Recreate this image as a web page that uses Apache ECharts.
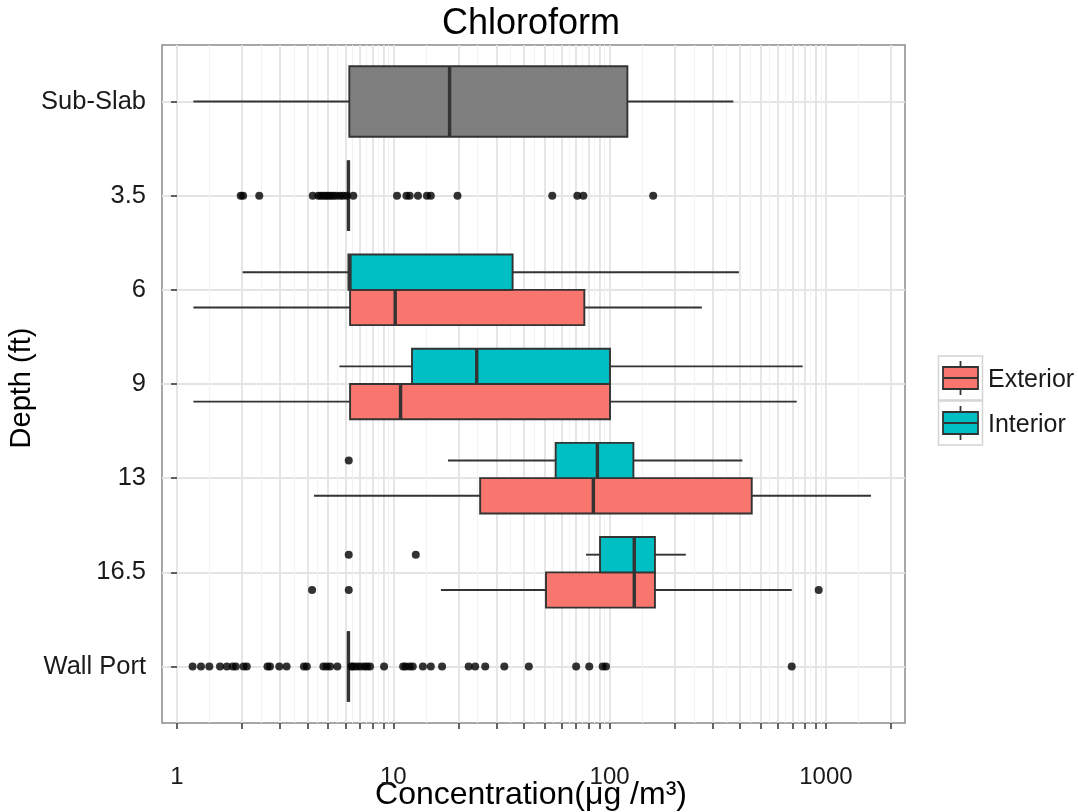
<!DOCTYPE html>
<html>
<head>
<meta charset="utf-8">
<script src="https://cdn.jsdelivr.net/npm/echarts@6/dist/echarts.min.js"></script>
<style>
html,body{margin:0;padding:0;background:#fff;}
#chart{width:1078px;height:812px;}
</style>
</head>
<body>
<div id="chart"></div>
<script>
// ---------- data ----------
const depthLabels = ['Wall Port', '16.5', '13', '9', '6', '3.5', 'Sub-Slab']; // bottom -> top
const tickValues = [1,2,3,4,5,6,7,8,9,10,20,30,40,50,60,70,80,90,100,200,300,400,500,600,700,800,900,1000,2000];
const labelValues = [1, 10, 100, 1000];
const groups = ['Exterior', 'Interior'];

// [depth, lower whisker, Q1, median, Q3, upper whisker]  (µg/m3)
const exteriorStats = [
  ['6',    1.19, 6.31, 10.2, 76.4, 267],
  ['9',    1.19, 6.31, 10.8, 100.4, 733],
  ['13',   4.30, 25.2, 84.1, 454, 1616],
  ['16.5', 16.6, 50.8, 130, 162, 695]
];
const interiorStats = [
  ['6',    2.01, 6.2, 6.3, 35.6, 396],
  ['9',    5.63, 12.2, 24.3, 100.4, 781],
  ['13',   17.9, 56.3, 87.8, 128.8, 411],
  ['16.5', 77.8, 90.3, 130, 162, 225]
];
const ungroupedStats = [
  ['Sub-Slab',  1.19, 6.26, 18.2, 120.8, 373],
  ['3.5',       6.2, 6.2, 6.2, 6.2, 6.2],
  ['Wall Port', 6.2, 6.2, 6.2, 6.2, 6.2]
];

// outliers [depth, value]
const exteriorOutliers = [['16.5', 4.21], ['16.5', 6.22], ['16.5', 926]];
const interiorOutliers = [['13', 6.22], ['16.5', 6.22], ['16.5', 12.7]];
const outliers35 = [1.97, 2.02, 2.40, 4.24, 4.50, 4.62, 4.75, 4.88, 5.0, 5.14, 5.28, 5.45, 5.67, 5.85, 6.09, 6.53,
  10.4, 11.5, 11.9, 13.0, 14.3, 14.9, 19.8, 54.3, 70.9, 75.6, 159];
const outliersWallPort = [1.18, 1.29, 1.41, 1.58, 1.70, 1.81, 1.87, 2.03, 2.10, 2.62, 2.69, 2.97, 3.21, 3.86, 3.98,
  4.75, 4.92, 5.10, 5.51, 6.4, 6.53, 6.77, 7.02, 7.32, 7.55, 7.80, 9.06, 11.1, 11.4, 11.9, 12.3, 13.7, 14.9, 16.8,
  22.3, 23.9, 26.6, 32.6, 42.3, 70.0, 80.5, 92.9, 96.2, 695];

// ---------- styling ----------
const colExterior = '#F8766D';
const colInterior = '#00BFC4';
const colNA = '#7F7F7F';
const stroke = '#333333';
const FONT = '"Liberation Sans", Arial, sans-serif';

const L = Math.log10;
const yPos = d => depthLabels.indexOf(d) + 1;
const DODGE = 0.1875;

function boxSeries(name, stats, offset, halfH, color) {
  return {
    type: 'custom',
    name: name,
    xAxisIndex: 0, yAxisIndex: 0,
    z: 3,
    encode: { x: [1, 2, 3, 4, 5], y: 0 },
    data: stats.map(s => [yPos(s[0]) + offset, L(s[1]), L(s[2]), L(s[3]), L(s[4]), L(s[5])]),
    renderItem: function (params, api) {
      const y = api.value(0);
      const p = [1, 2, 3, 4, 5].map(i => api.coord([api.value(i), y]));
      const yc = p[0][1];
      const h = api.size([0, halfH])[1];
      const ls = { stroke: stroke, lineWidth: 1.9 };
      return {
        type: 'group',
        children: [
          { type: 'line', shape: { x1: p[0][0], y1: yc, x2: p[1][0], y2: yc }, style: ls },
          { type: 'line', shape: { x1: p[3][0], y1: yc, x2: p[4][0], y2: yc }, style: ls },
          { type: 'rect', shape: { x: p[1][0], y: yc - h, width: p[3][0] - p[1][0], height: 2 * h },
            style: { fill: color, stroke: stroke, lineWidth: 1.9 } },
          { type: 'line', shape: { x1: p[2][0], y1: yc - h, x2: p[2][0], y2: yc + h },
            style: { stroke: stroke, lineWidth: 3.4 } }
        ]
      };
    }
  };
}

function outlierSeries(points) {
  return {
    type: 'scatter',
    xAxisIndex: 0, yAxisIndex: 0,
    z: 5,
    symbol: 'circle',
    symbolSize: 8,
    itemStyle: { color: '#000' },
    silent: true,
    data: points
  };
}

const outlierPoints = []
  .concat(exteriorOutliers.map(o => [L(o[1]), yPos(o[0]) - DODGE]))
  .concat(interiorOutliers.map(o => [L(o[1]), yPos(o[0]) + DODGE]))
  .concat(outliers35.map(v => [L(v), yPos('3.5')]))
  .concat(outliersWallPort.map(v => [L(v), yPos('Wall Port')]));

// minor grid positions: geometric midpoints between consecutive breaks
const minorValues = [];
for (let i = 0; i < tickValues.length - 1; i++) {
  minorValues.push((L(tickValues[i]) + L(tickValues[i + 1])) / 2);
}

const xMin = L(0.852), xMax = L(2321);

const chart = echarts.init(document.getElementById('chart'), null, { renderer: 'canvas' });
chart.setOption({
  animation: false,
  backgroundColor: '#ffffff',
  textStyle: { fontFamily: FONT },
  title: {
    text: 'Chloroform',
    left: 531, top: 6, textAlign: 'center', padding: 0,
    textStyle: { fontSize: 36, fontWeight: 'normal', color: '#000', fontFamily: FONT }
  },
  grid: {
    left: 162, right: 173, top: 45, bottom: 89,
    show: true, borderColor: '#8a8a8a', borderWidth: 1.5, backgroundColor: 'transparent'
  },
  xAxis: [
    {
      type: 'value', min: xMin, max: xMax,
      axisLine: { show: false },
      axisTick: { show: true, length: 6, inside: false, customValues: tickValues.map(L),
        lineStyle: { color: '#333', width: 1.5 } },
      axisLabel: { show: true, margin: 42, customValues: labelValues.map(L),
        formatter: v => String(Math.round(Math.pow(10, v))),
        fontSize: 24, color: '#1a1a1a', fontFamily: FONT },
      splitLine: { show: true, lineStyle: { color: '#e4e4e4', width: 1.8 } }
    },
    {
      type: 'value', min: xMin, max: xMax, position: 'bottom',
      axisLine: { show: false },
      axisTick: { show: false, customValues: minorValues },
      axisLabel: { show: false, customValues: minorValues },
      splitLine: { show: true, lineStyle: { color: '#f2f2f2', width: 1 } }
    }
  ],
  yAxis: {
    type: 'value', min: 0.4, max: 7.6,
    axisLine: { show: false },
    axisTick: { show: true, length: 6, customValues: [1, 2, 3, 4, 5, 6, 7],
      lineStyle: { color: '#333', width: 1.5 } },
    axisLabel: { show: true, margin: 16, customValues: [1, 2, 3, 4, 5, 6, 7],
      formatter: v => depthLabels[Math.round(v) - 1],
      fontSize: 25.5, color: '#1a1a1a', fontFamily: FONT },
    splitLine: { show: true, lineStyle: { color: '#e4e4e4', width: 1.8 } }
  },
  series: [
    boxSeries('Exterior', exteriorStats, -DODGE, DODGE, colExterior),
    boxSeries('Interior', interiorStats, DODGE, DODGE, colInterior),
    boxSeries('NA', ungroupedStats, 0, 2 * DODGE, colNA),
    outlierSeries(outlierPoints)
  ],
  graphic: [
    {
      type: 'text', x: 531, y: 795,
      style: { text: 'Concentration(\u03bcg /m\u00b3)', x: 0, y: 0, align: 'center', verticalAlign: 'middle',
        fontSize: 32, fill: '#000', fontFamily: FONT }
    },
    {
      type: 'text',
      x: 22, y: 388, rotation: Math.PI / 2,
      style: { text: 'Depth (ft)', x: 0, y: 0, align: 'center', verticalAlign: 'middle',
        fontSize: 29, fill: '#000', fontFamily: FONT }
    }
  ].concat(groups.flatMap((g, i) => {
    const top = 356 + i * 45;
    const col = i === 0 ? colExterior : colInterior;
    return [
      { type: 'rect', shape: { x: 938.5, y: top, width: 44, height: 44 },
        style: { fill: '#ffffff', stroke: '#d4d4d4', lineWidth: 1.5 } },
      { type: 'line', shape: { x1: 960.5, y1: top + 5, x2: 960.5, y2: top + 39 },
        style: { stroke: stroke, lineWidth: 1.8 } },
      { type: 'rect', shape: { x: 943, y: top + 11, width: 35, height: 22 },
        style: { fill: col, stroke: stroke, lineWidth: 1.8 } },
      { type: 'line', shape: { x1: 943, y1: top + 22, x2: 978, y2: top + 22 },
        style: { stroke: stroke, lineWidth: 1.8 } },
      { type: 'text', x: 988, y: top + 24,
        style: { text: g, x: 0, y: 0, align: 'left', verticalAlign: 'middle', fontSize: 25, fill: '#1a1a1a', fontFamily: FONT } }
    ];
  }))
});
</script>
</body>
</html>
